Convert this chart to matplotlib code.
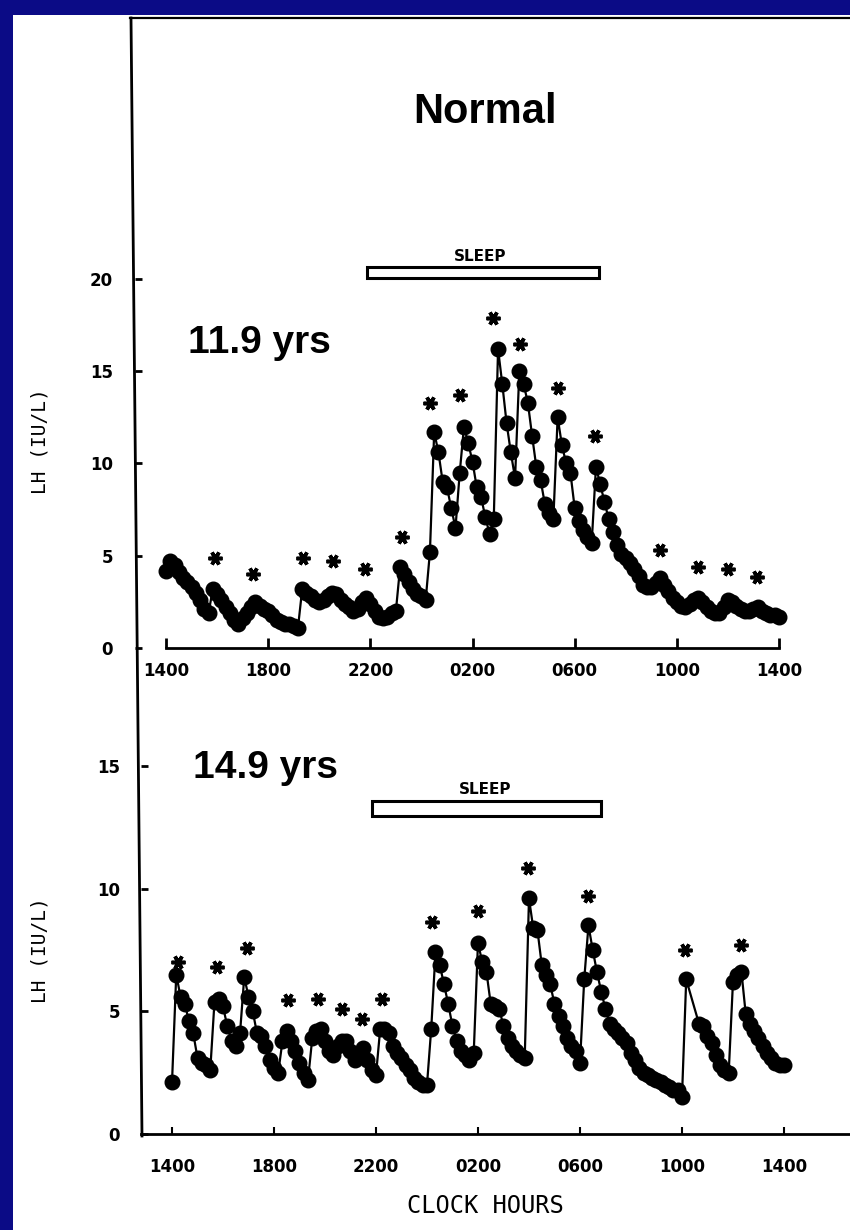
import numpy as np
import matplotlib
matplotlib.use("Agg")
import matplotlib.pyplot as plt
from matplotlib.patches import Rectangle
from matplotlib.lines import Line2D

W, H = 850, 1230

# sampling every 10 min, 1400 -> 1400 next day (hours after 1400)
sample_hours = np.arange(0, 1441, 10) / 60.0
hour_ticks = [0, 4, 8, 12, 16, 20, 24]
hour_labels = ['1400', '1800', '2200', '0200', '0600', '1000', '1400']

# LH (IU/L), 11.9 yrs, one row per clock hour
lh_119 = [
    4.2, 4.7, 4.5, 4.1, 3.8, 3.6,
    3.3, 3.0, 2.6, 2.1, 1.9, 3.2,
    2.9, 2.6, 2.2, 1.9, 1.5, 1.3,
    1.6, 1.9, 2.2, 2.5, 2.3, 2.1,
    2.0, 1.8, 1.5, 1.4, 1.3, 1.3,
    1.2, 1.1, 3.2, 3.0, 2.8, 2.6,
    2.5, 2.6, 2.8, 3.0, 2.9, 2.6,
    2.4, 2.2, 2.0, 2.1, 2.5, 2.7,
    2.4, 2.0, 1.7, 1.6, 1.7, 1.9,
    2.0, 4.4, 4.0, 3.6, 3.2, 2.9,
    2.8, 2.6, 5.2, 11.7, 10.6, 9.0,
    8.7, 7.6, 6.5, 9.5, 12.0, 11.1,
    10.1, 8.7, 8.2, 7.1, 6.2, 7.0,
    16.2, 14.3, 12.2, 10.6, 9.2, 15.0,
    14.3, 13.3, 11.5, 9.8, 9.1, 7.8,
    7.3, 7.0, 12.5, 11.0, 10.0, 9.5,
    7.6, 6.9, 6.4, 6.0, 5.7, 9.8,
    8.9, 7.9, 7.0, 6.3, 5.6, 5.1,
    4.9, 4.6, 4.3, 3.9, 3.4, 3.3,
    3.3, 3.5, 3.8, 3.4, 3.1, 2.7,
    2.5, 2.3, 2.2, 2.4, 2.6, 2.7,
    2.5, 2.2, 2.0, 1.9, 1.9, 2.2,
    2.6, 2.5, 2.3, 2.1, 2.0, 2.0,
    2.1, 2.2, 2.0, 1.9, 1.8, 1.8,
    1.7,
]

# LH (IU/L), 14.9 yrs (nan = no sample)
lh_149 = [
    2.1, 6.5, 5.6, 5.3, 4.6, 4.1,
    3.1, 2.9, 2.8, 2.6, 5.4, 5.5,
    5.2, 4.4, 3.8, 3.6, 4.1, 6.4,
    5.6, 5.0, 4.1, 4.0, 3.6, 3.0,
    2.7, 2.5, 3.8, 4.2, 3.8, 3.4,
    2.9, 2.5, 2.2, 3.9, 4.2, 4.3,
    3.8, 3.4, 3.2, 3.6, 3.8, 3.8,
    3.4, 3.0, 3.3, 3.5, 3.0, 2.6,
    2.4, 4.3, 4.3, 4.1, 3.6, 3.3,
    3.1, 2.8, 2.6, 2.3, 2.1, 2.0,
    2.0, 4.3, 7.4, 6.9, 6.1, 5.3,
    4.4, 3.8, 3.4, 3.2, 3.0, 3.3,
    7.8, 7.0, 6.6, 5.3, 5.2, 5.1,
    4.4, 3.9, 3.6, 3.4, 3.2, 3.1,
    9.6, 8.4, 8.3, 6.9, 6.5, 6.1,
    5.3, 4.8, 4.4, 3.9, 3.6, 3.4,
    2.9, 6.3, 8.5, 7.5, 6.6, 5.8,
    5.1, 4.5, 4.3, 4.1, 3.9, 3.7,
    3.3, 3.0, 2.7, 2.5, 2.4, 2.3,
    2.2, 2.1, 2.0, 1.9, 1.8, 1.8,
    1.5, 6.3, np.nan, np.nan, 4.5, 4.4,
    4.0, 3.7, 3.2, 2.8, 2.6, 2.5,
    6.2, 6.5, 6.6, 4.9, 4.5, 4.2,
    3.9, 3.6, 3.3, 3.1, 2.9, 2.8,
    2.8,
]

# pulses marked with asterisks
pulse_hours_119 = [1.92, 3.4, 5.36, 6.54, 7.8, 9.24, 10.34, 11.51, 12.8, 13.86,
                   15.35, 16.8, 19.34, 20.83, 22.0, 23.14]
pulse_lh_119 = [4.9, 4.0, 4.9, 4.7, 4.3, 6.0, 13.3, 13.7, 17.9, 16.5,
                14.1, 11.5, 5.3, 4.4, 4.3, 3.85]
pulse_hours_149 = [0.24, 1.76, 2.94, 4.55, 5.73, 6.67, 7.45, 8.24, 10.2, 12.0,
                   13.96, 16.3, 20.1, 22.3]
pulse_lh_149 = [7.0, 6.8, 7.6, 5.45, 5.5, 5.1, 4.7, 5.5, 8.65, 9.1,
                10.85, 9.7, 7.5, 7.7]

# sleep bars (hours after 1400, LH range)
sleep_119 = (7.87, 16.95, 20.05, 20.65)
sleep_149 = (7.84, 16.82, 12.96, 13.58)


def fx(x):
    return x / W


def fy(y):
    return 1 - y / H


fig = plt.figure(figsize=(8.5, 12.3), dpi=100, facecolor='#0b0b86')
fig.add_artist(Rectangle((fx(13), 0), 1, fy(15), transform=fig.transFigure,
                         facecolor='white', edgecolor='none', zorder=0))

# frame lines of the scanned figure
fig.add_artist(Line2D([fx(130), fx(850)], [fy(18), fy(18)], color='black', lw=1.6))
fig.add_artist(Line2D([fx(131), fx(142)], [fy(18), fy(1136)], color='black', lw=2))


def draw_panel(ax, values, p_hours, p_lh, sleep, age, age_pos, sleep_lbl_pos):
    v = np.array(values, dtype=float)
    ok = ~np.isnan(v)
    ax.plot(sample_hours[ok], v[ok], '-', color='black', lw=1.6, clip_on=False)
    ax.plot(sample_hours[ok], v[ok], 'o', color='black', ms=10.5, clip_on=False)
    ax.plot(p_hours, p_lh, linestyle='none', marker=(6, 2, 90), color='black',
            ms=10, mew=2.6)
    x0, x1, y0, y1 = sleep
    ax.add_patch(Rectangle((x0, y0), x1 - x0, y1 - y0, facecolor='white',
                           edgecolor='black', lw=2.2))
    ax.text(sleep_lbl_pos[0], sleep_lbl_pos[1], 'SLEEP', ha='center', va='bottom',
            fontweight='bold', fontsize=11)
    ax.text(age_pos[0], age_pos[1], age, ha='left', va='baseline',
            family='Liberation Sans', fontweight='bold', fontsize=28)
    ax.spines['left'].set_visible(False)
    ax.spines['right'].set_visible(False)
    ax.spines['top'].set_visible(False)
    ax.set_facecolor('none')


def style_ticks(ax):
    ax.set_xticks(hour_ticks)
    ax.set_xticklabels(hour_labels)
    for lab in ax.get_xticklabels() + ax.get_yticklabels():
        lab.set_fontweight('bold')
        lab.set_fontsize(12)


# top panel: 11.9 yrs
ax1 = fig.add_axes([fx(135), fy(655), fx(850) - fx(135), fy(240) - fy(655)])
ax1.set_xlim(-1.214, 26.78)
ax1.set_ylim(-0.379, 22.11)
draw_panel(ax1, lh_119, pulse_hours_119, pulse_lh_119, sleep_119,
           '11.9 yrs', (0.86, 16.0), (12.3, 20.8))
ax1.spines['bottom'].set_position(('data', 0))
ax1.spines['bottom'].set_bounds(0, 24)
ax1.spines['bottom'].set_linewidth(2)
ax1.set_yticks([0, 5, 10, 15, 20])
style_ticks(ax1)
ax1.tick_params(axis='x', direction='in', length=7, width=2, pad=10)
ax1.tick_params(axis='y', direction='in', length=5, width=2, pad=16)

# bottom panel: 14.9 yrs
ax2 = fig.add_axes([fx(141), fy(1134), fx(850) - fx(141), fy(740) - fy(1134)])
ax2.set_xlim(-1.216, 26.59)
ax2.set_ylim(0, 16.06)
draw_panel(ax2, lh_149, pulse_hours_149, pulse_lh_149, sleep_149,
           '14.9 yrs', (0.82, 14.5), (12.27, 13.74))
ax2.spines['bottom'].set_linewidth(2)
ax2.set_yticks([0, 5, 10, 15])
style_ticks(ax2)
ax2.tick_params(axis='x', direction='in', length=5, width=1.5, pad=17)
ax2.tick_params(axis='y', direction='in', length=5, width=2, pad=15)

fig.text(fx(485), fy(112), 'Normal', ha='center', va='center',
         family='Liberation Sans', fontweight='bold', fontsize=30)
fig.text(fx(40), fy(441), 'LH (IU/L)', rotation=90, ha='center', va='center',
         family='DejaVu Sans Mono', fontsize=14)
fig.text(fx(40), fy(950), 'LH (IU/L)', rotation=90, ha='center', va='center',
         family='DejaVu Sans Mono', fontsize=14)
fig.text(fx(485), fy(1206), 'CLOCK HOURS', ha='center', va='center',
         family='DejaVu Sans Mono', fontsize=17)

fig.savefig('out.png', dpi=100, facecolor=fig.get_facecolor())
